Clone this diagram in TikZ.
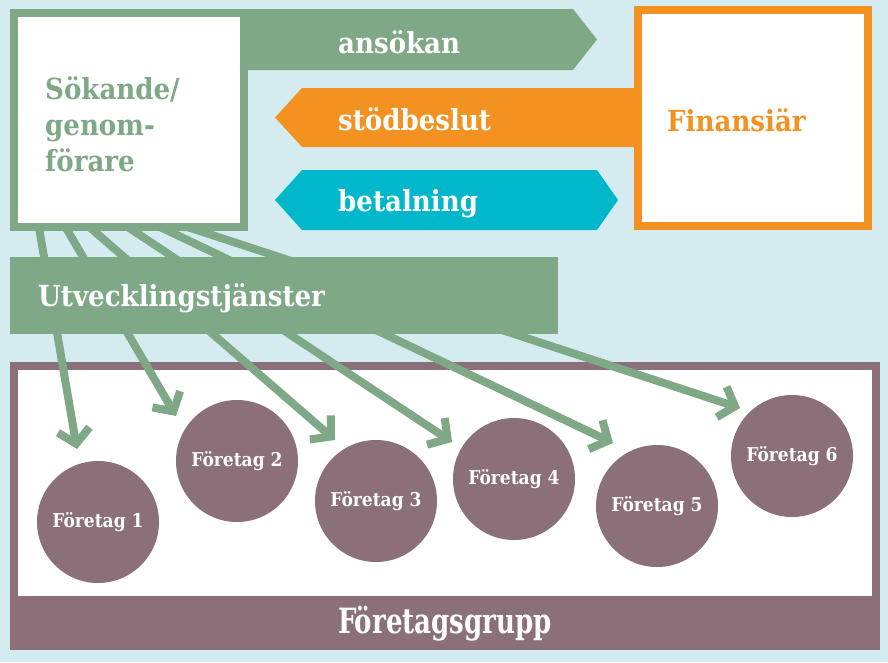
\documentclass[tikz,border=0pt]{standalone}
\usepackage{fontspec}
\newfontfamily\lblfont{DejaVuSerifCondensed-Bold.ttf}
\usetikzlibrary{arrows.meta}
\definecolor{bgc}{RGB}{212,236,240}
\definecolor{grn}{RGB}{126,168,134}
\definecolor{mauve}{RGB}{139,112,122}
\definecolor{orng}{RGB}{243,146,33}
\definecolor{cyn}{RGB}{0,183,204}
\tikzset{
  big/.style={font=\lblfont\fontsize{29}{36}\selectfont, inner sep=0pt},
  lbl/.style={big, text=white, anchor=base west},
  firm/.style={circle, fill=mauve, minimum size=122pt, inner sep=0pt, text=white,
    font=\lblfont\fontsize{19}{22}\selectfont},
  flow/.style={draw=grn, line width=8pt, -{Straight Barb[length=14pt,width=32pt]}},
  panel/.style={line width=8pt, fill=white, inner sep=0pt},
}
\begin{document}
\begin{tikzpicture}[x=1pt,y=-1pt]
\useasboundingbox (0,0) rectangle (888,662);
\fill[bgc] (0,0) rectangle (888,662);
% company group
\node[fill=mauve, minimum width=870pt, minimum height=288pt, inner sep=0pt] (grp) at (445,506) {};
\node[fill=white, minimum width=854pt, minimum height=226pt, inner sep=0pt] (grpin) at (445,483) {};
\node[big, text=white] (grptxt) at (445,624) {\scalebox{1}[1.2]{Företagsgrupp}};
% arrow start and end points
\coordinate (s1) at (37.7,220); \coordinate (t1) at (77,449);
\coordinate (s2) at (61.4,220); \coordinate (t2) at (176,416);
\coordinate (s3) at (81.3,220); \coordinate (t3) at (335,440);
\coordinate (s4) at (117.2,220); \coordinate (t4) at (452,442);
\coordinate (s5) at (145.4,220); \coordinate (t5) at (613,443);
\coordinate (s6) at (166.2,220); \coordinate (t6) at (740,408);
\foreach \i in {1,...,6} { \draw[flow] (s\i) -- (t\i); }
% applicant box
\fill[grn] (240,9) -- (573,9) -- (597,39.5) -- (573,70) -- (240,70) -- cycle;
\node[panel, draw=grn, minimum width=230pt, minimum height=214pt] (sok) at (129,120) {};
\node[big, text=grn, anchor=west, align=left] (soktxt) at (45,124) {Sökande/\\genom-\\förare};
\node[lbl] (ans) at (338,53) {ansökan};
% financier box
\fill[orng] (275,117.5) -- (302,88) -- (642,88) -- (642,147) -- (302,147) -- cycle;
\node[panel, draw=orng, minimum width=230pt, minimum height=216pt] (fin) at (753,118) {};
\node[big, text=orng, anchor=base west] (fintxt) at (667,131) {Finansiär};
\node[lbl] (sto) at (338,130) {stödbeslut};
\fill[cyn] (275,200) -- (302,170) -- (597,170) -- (618,200) -- (597,230) -- (302,230) -- cycle;
\node[lbl] (bet) at (338,211) {betalning};
% development services band
\node[fill=grn, minimum width=548pt, minimum height=77pt, inner sep=0pt] (utv) at (284,295.5) {};
\node[lbl] (utvtxt) at (38,306) {Utvecklingstjänster};
% companies
\node[firm] (f1) at (98,522) {Företag 1};
\node[firm] (f2) at (237,461) {Företag 2};
\node[firm] (f3) at (376,501) {Företag 3};
\node[firm] (f4) at (514,479) {Företag 4};
\node[firm] (f5) at (657,506) {Företag 5};
\node[firm] (f6) at (792,456) {Företag 6};
\end{tikzpicture}
\end{document}
